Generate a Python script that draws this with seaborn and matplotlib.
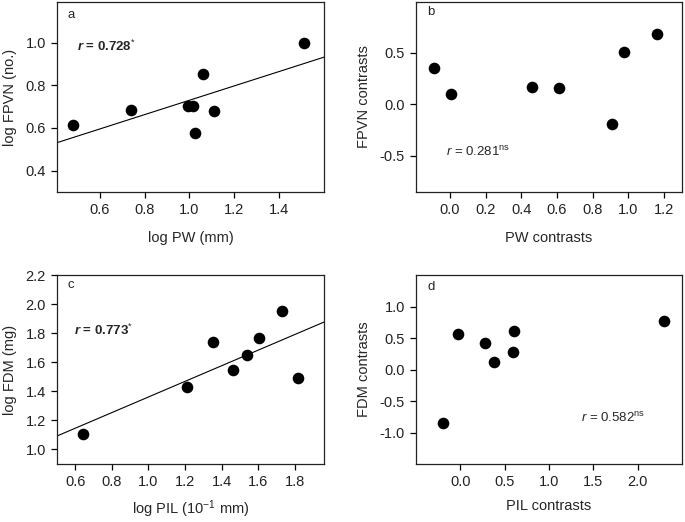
import numpy as np
import pandas as pd
import matplotlib
matplotlib.use("Agg")
import matplotlib.pyplot as plt
import seaborn as sns

# panel data
pw_log = [0.48, 0.74, 0.996, 1.017, 1.025, 1.06, 1.11, 1.51]
fpvn_log = [0.615, 0.685, 0.703, 0.703, 0.575, 0.855, 0.68, 1.00]

pw_contrast = [-0.09, 0.005, 0.46, 0.61, 0.91, 0.976, 1.16]
fpvn_contrast = [0.348, 0.103, 0.167, 0.16, -0.19, 0.503, 0.684]

pil_log = [0.644, 1.212, 1.354, 1.463, 1.538, 1.602, 1.728, 1.819]
fdm_log = [1.105, 1.429, 1.742, 1.55, 1.653, 1.765, 1.954, 1.495]

pil_contrast = [-0.198, -0.03, 0.277, 0.375, 0.589, 0.60, 2.30]
fdm_contrast = [-0.844, 0.568, 0.427, 0.115, 0.286, 0.604, 0.776]

# tick values per panel
a_xticks = [0.6, 0.8, 1.0, 1.2, 1.4]
a_yticks = [0.4, 0.6, 0.8, 1.0]
b_xticks = [0.0, 0.2, 0.4, 0.6, 0.8, 1.0, 1.2]
b_yticks = [-0.5, 0.0, 0.5]
c_xticks = [0.6, 0.8, 1.0, 1.2, 1.4, 1.6, 1.8]
c_yticks = [1.0, 1.2, 1.4, 1.6, 1.8, 2.0, 2.2]
d_xticks = [0.0, 0.5, 1.0, 1.5, 2.0]
d_yticks = [-1.0, -0.5, 0.0, 0.5, 1.0]

panel_letters = ["a", "b", "c", "d"]
r_texts = [r"$\mathbfit{r}$ = 0.728$^{*}$", r"$\mathit{r}$ = 0.281$^{\rm ns}$",
           r"$\mathbfit{r}$ = 0.773$^{*}$", r"$\mathit{r}$ = 0.582$^{\rm ns}$"]

sns.set_style("ticks")
plt.rcParams["font.family"] = ["Liberation Sans", "DejaVu Sans"]
plt.rcParams["mathtext.fontset"] = "custom"
plt.rcParams["mathtext.rm"] = "Liberation Sans"
plt.rcParams["mathtext.it"] = "Liberation Sans:italic"
plt.rcParams["mathtext.bf"] = "Liberation Sans:bold"
plt.rcParams["mathtext.bfit"] = "Liberation Sans:italic:bold"
plt.rcParams["axes.unicode_minus"] = False
plt.rcParams["xtick.major.size"] = 4.5
plt.rcParams["ytick.major.size"] = 4.5
plt.rcParams["axes.linewidth"] = 0.9

fig = plt.figure(figsize=(6.85, 5.22), dpi=100)
ax_a = fig.add_axes([0.0832, 0.6322, 0.3898, 0.364])
ax_b = fig.add_axes([0.6073, 0.6322, 0.3883, 0.364])
ax_c = fig.add_axes([0.0832, 0.1111, 0.3898, 0.362])
ax_d = fig.add_axes([0.6073, 0.1111, 0.3883, 0.362])

panels = [
    (ax_a, pw_log, fpvn_log, "log PW (mm)", "log FPVN (no.)", (0.41, 1.6), (0.3, 1.19), a_xticks, a_yticks, True),
    (ax_b, pw_contrast, fpvn_contrast, "PW contrasts", "FPVN contrasts", (-0.19, 1.3), (-0.85, 0.99), b_xticks, b_yticks, False),
    (ax_c, pil_log, fdm_log, r"log PIL (10$^{\mathregular{-1}}$ mm)", "log FDM (mg)", (0.5, 1.96), (0.9, 2.2), c_xticks, c_yticks, True),
    (ax_d, pil_contrast, fdm_contrast, "PIL contrasts", "FDM contrasts", (-0.5, 2.5), (-1.5, 1.5), d_xticks, d_yticks, False),
]

# text positions in data coordinates
letter_pos = [(0.456, 1.13), (-0.13, 0.89), (0.56, 2.13), (-0.37, 1.31)]
r_pos = [(0.50, 0.98), (-0.02, -0.46), (0.593, 1.82), (1.36, -0.77)]

for i, (ax, x, y, xl, yl, xlim, ylim, xt, yt, fit) in enumerate(panels):
    df = pd.DataFrame({"x": x, "y": y})
    ax.set_xlim(*xlim)
    ax.set_ylim(*ylim)
    if fit:
        sns.regplot(data=df, x="x", y="y", ax=ax, scatter=False, ci=None,
                    truncate=False, color="black", line_kws={"lw": 0.8})
    sns.scatterplot(data=df, x="x", y="y", ax=ax, s=70, color="black",
                    edgecolor="black", linewidth=0, zorder=3)
    ax.set_xlim(*xlim)
    ax.set_ylim(*ylim)
    ax.set_xticks(xt)
    ax.set_yticks(yt)
    ax.set_xticklabels([f"{v:.1f}" for v in xt])
    ax.set_yticklabels([f"{v:.1f}" for v in yt])
    ax.set_xlabel(xl, fontsize=10.5, labelpad=10 if i < 2 else 7)
    ax.set_ylabel(yl, fontsize=10.5, labelpad=6)
    ax.tick_params(labelsize=10.5, width=0.9, color="black", labelcolor="#222222")
    for sp in ax.spines.values():
        sp.set_color("#222222")
    ax.text(*letter_pos[i], panel_letters[i], fontsize=9.5, ha="left", va="center")
    weight = "bold" if fit else "normal"
    ax.text(*r_pos[i], r_texts[i], fontsize=9.5, ha="left", va="center", fontweight=weight)

fig.savefig("out.png", dpi=100)
